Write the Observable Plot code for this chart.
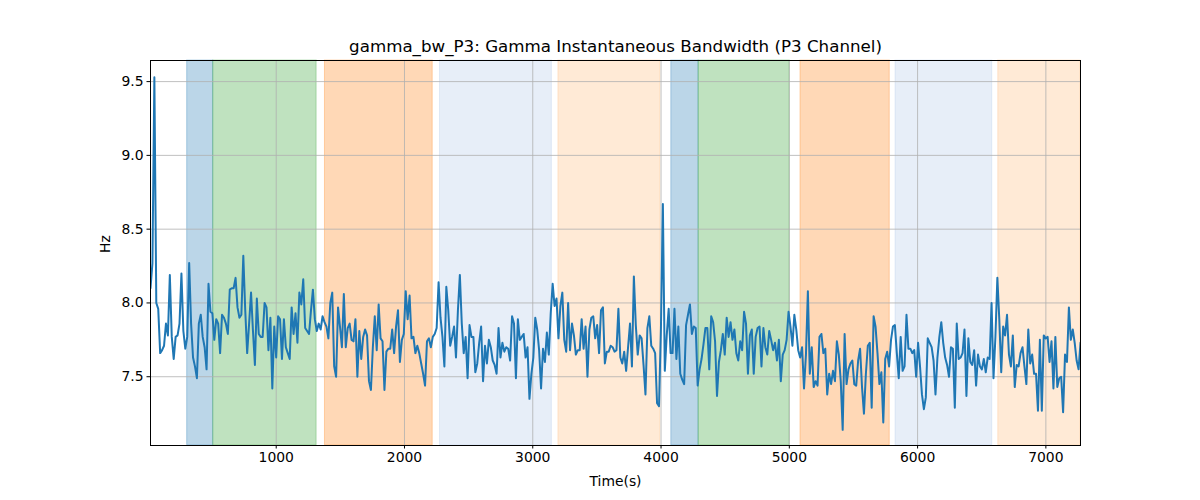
<!DOCTYPE html>
<html><head><meta charset="utf-8">
<script src="https://cdn.jsdelivr.net/npm/d3@7"></script>
<script src="https://cdn.jsdelivr.net/npm/@observablehq/plot@0.6"></script>
<style>body{margin:0;background:#fff}</style>
</head><body><div id="chart"></div>
<script>
const title = "gamma_bw_P3: Gamma Instantaneous Bandwidth (P3 Channel)";
const xLabel = "Time(s)";
const yLabel = "Hz";
const xTicks = [1000, 2000, 3000, 4000, 5000, 6000, 7000];
const yTicks = [7.5, 8.0, 8.5, 9.0, 9.5];
const tStart = 20;
const tEnd = 7270;

const bandwidth = [
8.10,8.27,9.53,8.00,7.96,7.66,7.68,7.71,7.86,7.78,8.19,7.77,7.62,7.77,7.78,7.86,8.20,7.81,7.69,7.77,
8.27,7.86,7.63,7.57,7.49,7.86,7.92,7.77,7.70,7.55,8.13,7.94,7.93,7.75,7.89,7.86,7.66,7.92,7.90,7.86,
7.79,8.09,8.10,8.10,8.17,7.97,7.90,7.92,8.32,7.95,7.66,7.86,8.07,7.81,7.58,8.03,7.79,7.77,7.77,
8.00,7.97,7.68,7.90,7.42,7.84,7.63,7.91,7.89,7.62,7.89,7.70,7.66,7.62,7.97,7.79,7.93,7.73,8.07,7.99,
8.16,7.83,7.81,7.79,7.95,8.09,7.89,7.81,7.86,7.82,7.91,7.87,7.84,7.76,8.00,8.07,7.57,7.50,7.97,7.84,
7.70,8.06,7.70,7.83,7.86,7.75,7.74,7.89,7.50,7.81,7.62,7.77,7.82,7.78,7.47,7.41,7.70,7.91,
7.68,7.99,7.76,7.74,7.41,7.67,7.69,7.69,7.82,7.66,7.84,7.95,7.60,7.75,7.79,8.08,7.89,8.05,7.76,7.77,
7.66,7.71,7.66,7.59,7.52,7.44,7.74,7.76,7.70,7.77,7.79,7.83,8.14,7.90,7.77,7.57,8.11,7.95,7.71,7.77,
7.84,7.63,7.95,8.19,7.86,7.66,7.77,7.49,7.85,7.77,7.77,7.53,7.59,7.73,7.84,7.47,7.71,7.59,7.75,
7.70,7.61,7.58,7.52,7.83,7.63,7.73,7.67,7.70,7.69,7.61,7.91,7.86,7.49,7.89,7.75,7.77,7.79,7.63,7.70,
7.35,7.52,7.63,7.90,7.82,7.68,7.42,7.69,7.60,7.80,7.65,7.93,8.13,7.98,8.03,7.76,7.98,8.07,7.75,7.67,
8.00,7.68,7.86,7.78,7.65,7.68,7.68,7.89,7.69,7.84,7.50,7.82,7.90,7.91,7.76,7.85,7.66,7.95,7.97,
7.59,7.67,7.67,7.71,7.70,7.67,7.68,7.96,7.63,7.59,7.67,7.54,7.70,7.86,7.57,8.18,7.85,7.65,7.78,7.76,
7.58,7.38,7.83,7.91,7.71,7.69,7.66,7.32,7.30,7.83,8.67,7.54,7.78,7.96,7.66,7.66,7.96,7.62,7.84,7.52,
7.48,7.45,7.85,7.92,7.99,7.79,7.84,7.83,7.44,7.55,7.62,7.72,7.83,7.83,7.55,7.91,7.87,7.74,7.37,7.60,
7.68,7.79,7.65,7.90,7.77,7.87,7.75,7.82,7.66,7.61,7.74,7.68,7.94,7.86,7.52,7.78,7.82,7.52,7.77,7.83,
7.84,7.57,7.83,7.70,7.65,7.81,7.75,7.68,7.73,7.61,7.75,7.47,7.65,7.68,7.75,7.94,7.84,7.71,7.92,7.82,
7.68,7.63,7.70,7.42,7.65,8.08,7.52,7.70,7.43,7.47,7.44,7.77,7.79,7.66,7.69,7.38,7.52,7.45,7.54,7.47,
7.74,7.65,7.47,7.14,7.79,7.45,7.55,7.59,7.61,7.45,7.44,7.61,7.69,7.43,7.25,7.52,7.71,7.73,7.29,7.91,
7.84,7.66,7.45,7.53,7.19,7.62,7.67,7.57,7.75,7.84,7.85,7.66,7.49,7.77,7.54,7.57,7.92,7.69,7.69,7.66,
7.68,7.50,7.73,7.57,7.38,7.28,7.36,7.76,7.73,7.70,7.61,7.38,7.63,7.77,7.87,7.73,7.63,7.58,7.50,7.70,
7.69,7.29,7.86,7.62,7.63,7.66,7.82,7.37,7.76,7.60,7.58,7.68,7.44,7.65,7.57,7.55,7.62,7.53,7.63,7.62,
8.00,7.49,7.77,8.17,7.89,7.53,7.84,7.78,7.92,7.65,7.57,7.78,7.43,7.58,7.57,7.66,7.70,7.57,7.45,7.82,
7.59,7.65,7.52,7.52,7.27,7.75,7.27,7.78,7.76,7.77,7.60,7.74,7.42,7.77,7.43,7.49,7.50,7.26,7.65,7.60,
7.97,7.75,7.82,7.73,7.61,7.55,7.73
];

const bandStart = [306, 509, 1380, 2277, 3200, 4080, 4293, 5087, 5828, 6629];
const bandEnd   = [509, 1315, 2220, 3149, 3994, 4293, 5003, 5783, 6582, 7270];
const bandKind  = ["s1", "s2", "s3", "s4", "s5", "s1", "s2", "s3", "s4", "s5"];
const kindNames = ["s1", "s2", "s3", "s4", "s5"];
const kindColors = ["#1f77b4", "#2ca02c", "#ff7f0e", "#aec7e8", "#ffbb78"];

const step = (tEnd - tStart) / (bandwidth.length - 1);
const series = bandwidth.map((v, i) => ({t: tStart + i * step, v}));
const bands = bandStart.map((s, i) => ({x1: s, x2: bandEnd[i], kind: bandKind[i]}));

const fs = 13.9;
const chart = Plot.plot({
  width: 1200,
  height: 500,
  marginLeft: 150,
  marginRight: 120,
  marginTop: 60,
  marginBottom: 55,
  style: {fontFamily: "DejaVu Sans", fontSize: fs + "px", background: "#fff", color: "#000"},
  x: {domain: [tStart, tEnd], label: null},
  y: {domain: [7.034, 9.643], label: null},
  color: {domain: kindNames, range: kindColors, legend: false},
  marks: [
    Plot.rect(bands, {x1: "x1", x2: "x2", fill: "kind", fillOpacity: 0.3, stroke: "kind", strokeOpacity: 0.3, strokeWidth: 1}),
    Plot.gridX(xTicks, {stroke: "#b0b0b0", strokeOpacity: 1, strokeWidth: 0.8}),
    Plot.gridY(yTicks, {stroke: "#b0b0b0", strokeOpacity: 1, strokeWidth: 0.8}),
    Plot.line(series, {x: "t", y: "v", stroke: "#1f77b4", strokeWidth: 2, clip: true}),
    Plot.frame({stroke: "#000", strokeWidth: 1}),
    Plot.axisX({ticks: xTicks, tickSize: 3.5, tickPadding: 3.5, tickFormat: d => String(d), fontSize: fs, label: null}),
    Plot.axisY({ticks: yTicks, tickSize: 3.5, tickPadding: 3.5, tickFormat: d3.format(".1f"), fontSize: fs, label: null}),
    Plot.text([title], {frameAnchor: "top", dy: -14, fontSize: 16.7, lineAnchor: "middle", fill: "#000"}),
    Plot.text([xLabel], {frameAnchor: "bottom", dy: 36, fontSize: fs, lineAnchor: "middle", fill: "#000"}),
    Plot.text([yLabel], {frameAnchor: "left", dx: -45, rotate: -90, fontSize: fs, lineAnchor: "middle", fill: "#000"})
  ]
});
document.getElementById("chart").appendChild(chart);
</script>
</body></html>
